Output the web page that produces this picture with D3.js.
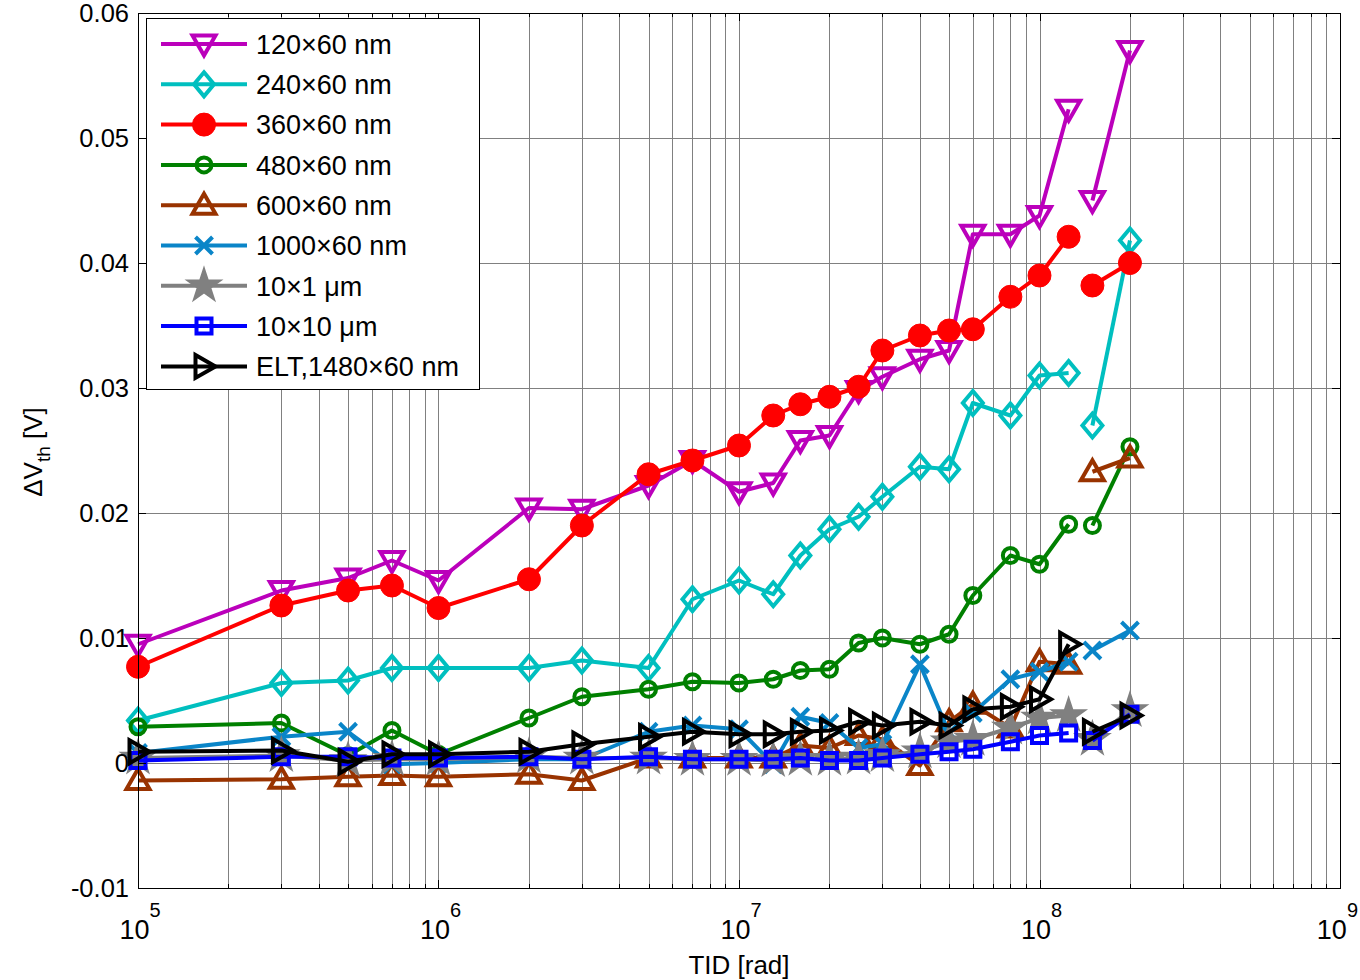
<!DOCTYPE html>
<html>
<head>
<meta charset="utf-8">
<script src="https://cdn.jsdelivr.net/npm/d3@7"></script>
<style>
  html, body { margin: 0; padding: 0; background: #fff; }
  svg { display: block; font-family: "Liberation Sans", Arial, Helvetica, sans-serif; }
</style>
</head>
<body>
<svg id="chart" width="1360" height="980"></svg>
<script>
// Total ionizing dose steps [rad]
const tid = [1e5, 3e5, 5e5, 7e5, 1e6, 2e6, 3e6, 5e6, 7e6, 1e7, 1.3e7, 1.6e7, 2e7,
             2.5e7, 3e7, 4e7, 5e7, 6e7, 8e7, 1e8, 1.25e8, 1.5e8, 2e8];
// the last doses come from a second irradiation run, not joined to the first
const runSplit = 21;

// Threshold voltage shift [V] per device geometry
const dvt120x60 = [0.0095, 0.0138, 0.0148, 0.0162, 0.0146, 0.0204, 0.0203, 0.0222, 0.0242, 0.0217, 0.0224, 0.0258, 0.0262,
                   0.0298, 0.0309, 0.0323, 0.0330, 0.0423, 0.0423, 0.0438, 0.0523, 0.0450, 0.0570];
const dvt240x60 = [0.0034, 0.0064, 0.0066, 0.0076, 0.0076, 0.0076, 0.0082, 0.0076, 0.0131, 0.0146, 0.0135, 0.0166, 0.0187,
                   0.0197, 0.0213, 0.0237, 0.0235, 0.0288, 0.0278, 0.0310, 0.0312, 0.0270, 0.0418];
const dvt360x60 = [0.0077, 0.0126, 0.0138, 0.0142, 0.0124, 0.0147, 0.0190, 0.0231, 0.0242, 0.0254, 0.0278, 0.0287, 0.0293,
                   0.0301, 0.0330, 0.0342, 0.0346, 0.0347, 0.0373, 0.0390, 0.0421, 0.0382, 0.0400];
const dvt480x60 = [0.0029, 0.0032, 0.0006, 0.0026, 0.0007, 0.0036, 0.0053, 0.0059, 0.0065, 0.0064, 0.0067, 0.0074, 0.0075,
                   0.0096, 0.0100, 0.0095, 0.0103, 0.0134, 0.0166, 0.0159, 0.0191, 0.0190, 0.0253];
const dvt600x60 = [-0.0014, -0.0013, -0.0011, -0.0010, -0.0011, -0.0009, -0.0014, 0.0004, 0.0004, 0.0004, 0.0004, 0.0014, 0.0012,
                   0.0022, 0.0019, -0.0002, 0.0033, 0.0047, 0.0028, 0.0081, 0.0079, 0.0233, 0.0244];
const dvt1000x60 = [0.0008, 0.0021, 0.0025, -0.0001, 0.0000, 0.0003, 0.0003, 0.0025, 0.0030, 0.0027, -0.0001, 0.0037, 0.0032,
                    0.0012, 0.0015, 0.0079, 0.0024, 0.0040, 0.0067, 0.0073, 0.0081, 0.0090, 0.0106];
const dvt10x1 = [0.0004, 0.0006, 0.0002, 0.0003, 0.0003, 0.0005, 0.0004, 0.0004, 0.0003, 0.0003, 0.0002, 0.0003, 0.0003,
                 0.0004, 0.0006, 0.0009, 0.0017, 0.0019, 0.0028, 0.0036, 0.0038, 0.0019, 0.0042];
const dvt10x10 = [0.0002, 0.0005, 0.0005, 0.0004, 0.0004, 0.0005, 0.0003, 0.0005, 0.0003, 0.0003, 0.0003, 0.0004, 0.0002,
                  0.0002, 0.0004, 0.0007, 0.0009, 0.0011, 0.0017, 0.0022, 0.0024, 0.0018, 0.0039];
const dvtELT = [0.0009, 0.0010, 0.0001, 0.0007, 0.0007, 0.0009, 0.0015, 0.0021, 0.0025, 0.0023, 0.0023, 0.0025, 0.0026,
                0.0033, 0.0030, 0.0033, 0.0030, 0.0043, 0.0045, 0.0051, 0.0095, 0.0025, 0.0038];

const seriesNames = ["120×60 nm", "240×60 nm", "360×60 nm", "480×60 nm", "600×60 nm",
                     "1000×60 nm", "10×1 μm", "10×10 μm", "ELT,1480×60 nm"];
const seriesValues = [dvt120x60, dvt240x60, dvt360x60, dvt480x60, dvt600x60,
                      dvt1000x60, dvt10x1, dvt10x10, dvtELT];
const seriesColors = ["#bb00bb", "#00bfbf", "#ff0000", "#008000", "#993300",
                      "#0a85c8", "#808080", "#0000ff", "#000000"];
const seriesMarkers = ["triDown", "diamond", "dot", "ring", "triUp", "cross", "star", "square", "triRight"];

const yTicks = [-0.01, 0, 0.01, 0.02, 0.03, 0.04, 0.05, 0.06];
const yTickLabels = ["-0.01", "0", "0.01", "0.02", "0.03", "0.04", "0.05", "0.06"];
const xDecades = [1e5, 1e6, 1e7, 1e8, 1e9];
const xExponents = ["5", "6", "7", "8", "9"];

// ---- layout ----
const W = 1360;
const svg = d3.select("#chart");
const plot = { left: 138, right: 1340, top: 13, bottom: 888 };

const x = d3.scaleLog().domain([1e5, 1e9]).range([plot.left, plot.right]);
const y = d3.scaleLinear().domain([-0.01, 0.06]).range([plot.bottom, plot.top]);

// ---- grid ----
const minorX = [];
for (let d = 1e5; d < 1e9; d *= 10) for (let k = 2; k <= 9; k++) minorX.push(d * k);

const grid = svg.append("g").attr("shape-rendering", "crispEdges");
grid.selectAll(".gx").data(minorX.concat(xDecades.slice(1, -1))).enter().append("line")
  .attr("x1", d => Math.round(x(d)) + 0.5).attr("x2", d => Math.round(x(d)) + 0.5)
  .attr("y1", plot.top).attr("y2", plot.bottom)
  .attr("stroke", "#808080").attr("stroke-width", 1);
grid.selectAll(".gy").data(yTicks.slice(1, -1)).enter().append("line")
  .attr("x1", plot.left).attr("x2", plot.right)
  .attr("y1", d => Math.round(y(d)) + 0.5).attr("y2", d => Math.round(y(d)) + 0.5)
  .attr("stroke", "#808080").attr("stroke-width", 1);

// ---- markers ----
function markerPath(type) {
  switch (type) {
    case "triDown": return "M-11.5,-8.5L11.5,-8.5L0,11.5Z";
    case "triUp": return "M-11.5,8.5L11.5,8.5L0,-11.5Z";
    case "triRight": return "M-8.5,-11.5L11.5,0L-8.5,11.5Z";
    case "diamond": return "M0,-12L10,0L0,12L-10,0Z";
    case "square": return "M-7.5,-7.5H7.5V7.5H-7.5Z";
    case "cross": return "M-8.5,-8.5L8.5,8.5M-8.5,8.5L8.5,-8.5";
    case "ring": return d3.symbol(d3.symbolCircle, Math.PI * 7.5 * 7.5)();
    case "dot": return d3.symbol(d3.symbolCircle, Math.PI * 11.5 * 11.5)();
    case "star": return d3.symbol(d3.symbolStar, 220)();
  }
}
function markerStyle(sel, type, color) {
  const filled = type === "dot" || type === "star";
  sel.attr("d", markerPath(type))
    .attr("fill", filled ? color : "none")
    .attr("stroke", color)
    .attr("stroke-width", type === "dot" ? 1 : 4)
    .attr("stroke-linejoin", "miter");
}

// ---- series ----
const line = d3.line().x(d => x(d.t)).y(d => y(d.v));
const dataLayer = svg.append("g");

seriesValues.forEach((vals, i) => {
  const pts = tid.map((t, j) => ({ t, v: vals[j] }));
  const runs = [pts.slice(0, runSplit), pts.slice(runSplit)];
  const g = dataLayer.append("g");
  runs.forEach(run => {
    g.append("path").datum(run).attr("d", line)
      .attr("fill", "none").attr("stroke", seriesColors[i])
      .attr("stroke-width", 4).attr("stroke-linejoin", "round");
  });
  g.selectAll(".m").data(pts).enter().append("path")
    .attr("transform", d => `translate(${x(d.t)},${y(d.v)})`)
    .call(markerStyle, seriesMarkers[i], seriesColors[i]);
});

// ---- axes frame & ticks ----
const axes = svg.append("g").attr("shape-rendering", "crispEdges");
axes.append("rect")
  .attr("x", plot.left + 0.5).attr("y", plot.top + 0.5)
  .attr("width", plot.right - plot.left).attr("height", plot.bottom - plot.top)
  .attr("fill", "none").attr("stroke", "#000").attr("stroke-width", 1.5);

function vTick(xv, len) {
  const xp = Math.round(x(xv)) + 0.5;
  axes.append("line").attr("x1", xp).attr("x2", xp).attr("y1", plot.bottom).attr("y2", plot.bottom - len).attr("stroke", "#000");
  axes.append("line").attr("x1", xp).attr("x2", xp).attr("y1", plot.top).attr("y2", plot.top + len).attr("stroke", "#000");
}
minorX.forEach(v => vTick(v, 4));
xDecades.forEach(v => vTick(v, 8));
yTicks.forEach(v => {
  const yp = Math.round(y(v)) + 0.5;
  axes.append("line").attr("x1", plot.left).attr("x2", plot.left + 8).attr("y1", yp).attr("y2", yp).attr("stroke", "#000");
  axes.append("line").attr("x1", plot.right).attr("x2", plot.right - 8).attr("y1", yp).attr("y2", yp).attr("stroke", "#000");
});

// y tick labels
svg.append("g").selectAll("text").data(yTicks).enter().append("text")
  .attr("x", plot.left - 9).attr("y", d => y(d)).attr("dy", "0.36em")
  .attr("text-anchor", "end").attr("font-size", 25.5).attr("fill", "#000")
  .text((d, i) => yTickLabels[i]);

// x tick labels: 10 with superscript exponent, kept inside the canvas
const xl = svg.append("g");
xDecades.forEach((d, i) => {
  const t = xl.append("text").attr("x", x(d) + 2).attr("y", 939)
    .attr("text-anchor", "middle").attr("font-size", 27).attr("fill", "#000");
  t.append("tspan").text("10");
  t.append("tspan").attr("font-size", 20).attr("dy", -22).text(xExponents[i]);
  const bb = t.node().getBBox();
  const overflow = bb.x + bb.width - (W - 2);
  if (overflow > 0) t.attr("x", x(d) + 2 - overflow);
});

// axis titles
svg.append("text").attr("x", 739).attr("y", 974).attr("text-anchor", "middle")
  .attr("font-size", 26).attr("fill", "#000").text("TID [rad]");

const yt = svg.append("text").attr("transform", "translate(42,452) rotate(-90)")
  .attr("text-anchor", "middle").attr("font-size", 26).attr("fill", "#000");
yt.append("tspan").text("ΔV");
yt.append("tspan").attr("font-size", 19).attr("dy", 8).text("th");
yt.append("tspan").attr("dy", -8).text(" [V]");

// ---- legend ----
const lg = svg.append("g");
lg.append("rect").attr("x", 146.5).attr("y", 18.5).attr("width", 333).attr("height", 371)
  .attr("fill", "#fff").attr("stroke", "#000").attr("stroke-width", 1.2).attr("shape-rendering", "crispEdges");
seriesNames.forEach((name, i) => {
  const cy = 44 + i * 40.3;
  const row = lg.append("g");
  row.append("line").attr("x1", 161).attr("x2", 247).attr("y1", cy).attr("y2", cy)
    .attr("stroke", seriesColors[i]).attr("stroke-width", 4);
  row.append("path").attr("transform", `translate(204,${cy})`)
    .call(markerStyle, seriesMarkers[i], seriesColors[i]);
  row.append("text").attr("x", 256).attr("y", cy).attr("dy", "0.36em")
    .attr("font-size", 27).attr("fill", "#000").text(name);
});
</script>
</body>
</html>
